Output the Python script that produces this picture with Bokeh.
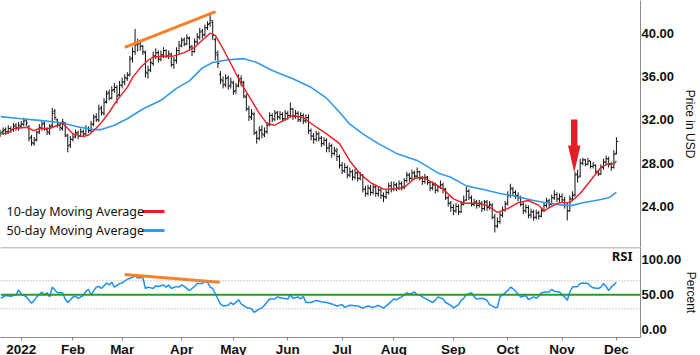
from bokeh.plotting import figure
from bokeh.layouts import column
from bokeh.models import Range1d, FixedTicker, NumeralTickFormatter, Span, Label
from bokeh.embed import file_html
from bokeh.resources import INLINE

# ---------------- data (trading-day index, 0 = 3 Jan 2022) ----------------
START_DAY = -8
month_days = [0, 20, 39, 62, 82, 103, 124, 144, 167, 188, 209, 230]
month_labels = ["2022", "Feb", "Mar", "Apr", "May", "Jun", "Jul", "Aug", "Sep", "Oct", "Nov", "Dec"]
price_ticks = [24, 28, 32, 36, 40]
rsi_ticks = [0, 50, 100]

closes = [30.8, 31.0, 30.9, 31.2, 31.1, 31.4, 31.3, 31.5,
          31.6, 31.9, 31.7, 30.3, 29.9, 30.1, 30.8, 31.3, 31.6, 31.2, 30.9, 31.4, 32.6, 32.2, 31.6, 31.3, 31.8, 30.6, 29.6, 30.2,
          30.4, 30.8, 30.5, 30.9, 30.7, 31.2, 31.0, 31.6, 32.2, 32.0, 33.0, 32.7, 33.6, 34.4, 34.0, 34.7, 35.0, 34.2, 35.2,
          35.5, 35.9, 36.1, 37.6, 38.3, 38.9, 39.0, 38.8, 38.3, 36.4, 36.6, 37.3, 37.9, 38.2, 37.6, 38.0, 38.4, 37.9, 38.1, 37.1, 37.5, 38.4, 38.9,
          39.3, 39.0, 39.6, 38.7, 38.3, 39.2, 39.7, 40.1, 39.9, 40.5, 40.8, 41.2, 39.8, 38.2, 37.2, 35.7, 35.2, 35.8, 35.1, 35.5,
          34.6, 35.1, 35.8, 35.5, 34.2, 33.0, 32.3, 32.6, 30.8, 30.3, 31.0, 30.7, 30.9, 31.5, 32.4, 32.1, 32.6, 32.3, 32.5, 32.1, 32.6,
          32.4, 33.0, 32.3, 32.6, 32.0, 32.4, 31.9, 32.2, 31.0, 30.5, 30.2, 30.7, 30.3, 29.8, 30.1, 29.4, 29.6, 28.9, 29.2, 28.6, 27.8,
          27.3, 27.6, 26.9, 27.2, 26.7, 27.1, 26.6, 26.9, 25.6, 25.2, 25.7, 25.3, 25.8, 25.2, 25.5, 25.0, 24.9, 25.3, 25.9, 25.6,
          26.0, 25.7, 26.1, 25.8, 26.4, 26.9, 26.6, 27.1, 26.8, 27.2, 26.6, 26.3, 26.7, 26.2, 25.7, 26.0, 25.5, 25.8, 26.0, 25.6, 24.8, 24.3, 23.9,
          23.6, 24.0, 23.5, 24.2, 24.5, 25.4, 24.8, 24.2, 24.4, 24.1, 24.3, 23.8, 24.4, 23.9, 24.2, 23.0, 22.2, 22.6, 23.2, 23.7, 24.2,
          25.0, 25.7, 25.3, 25.0, 24.8, 24.2, 23.6, 23.9, 23.2, 23.5, 23.0, 23.4, 23.1, 23.6, 24.1, 24.5, 24.2, 24.8, 25.1, 24.7, 24.9,
          24.6, 24.1, 23.6, 24.7, 25.0, 26.9, 26.7, 28.0, 28.3, 27.9, 28.2, 27.7, 27.8, 27.2, 27.0, 27.6, 28.1, 28.4, 27.9, 27.6, 28.8,
          30.0]
opens = [30.6, 30.9, 31.1, 30.9, 31.2, 31.1, 31.5, 31.2,
         31.4, 31.6, 32.0, 31.4, 30.4, 29.8, 30.2, 30.9, 31.2, 31.7, 31.1, 30.8, 31.5, 32.8, 32.0, 31.5, 31.2, 31.7, 30.5, 29.7,
         30.2, 30.5, 30.8, 30.5, 30.9, 30.7, 31.2, 31.0, 31.6, 32.3, 32.0, 33.1, 32.6, 33.7, 34.5, 34.0, 34.8, 35.0, 34.3,
         35.2, 35.5, 35.8, 36.2, 37.7, 38.3, 39.0, 39.1, 38.8, 38.2, 36.3, 36.6, 37.2, 37.9, 38.2, 37.6, 38.0, 38.4, 37.9, 38.0, 37.1, 37.5, 38.4,
         38.8, 39.4, 39.0, 39.5, 38.8, 38.3, 39.2, 39.6, 40.2, 39.8, 40.5, 40.9, 41.0, 39.4, 38.0, 36.2, 35.6, 35.3, 35.9, 35.2,
         35.4, 34.7, 35.2, 35.8, 35.4, 34.1, 33.0, 32.2, 32.5, 30.8, 30.3, 31.1, 30.6, 30.9, 31.6, 32.4, 32.0, 32.7, 32.2, 32.5, 32.1,
         32.6, 32.4, 33.0, 32.3, 32.6, 32.0, 32.4, 31.9, 32.2, 31.0, 30.5, 30.2, 30.7, 30.3, 29.8, 30.1, 29.4, 29.6, 28.9, 29.1, 28.6,
         27.8, 27.3, 27.6, 26.9, 27.2, 26.7, 27.1, 26.6, 26.9, 25.6, 25.2, 25.7, 25.3, 25.8, 25.2, 25.5, 25.0, 24.9, 25.3, 25.9,
         25.6, 26.0, 25.7, 26.1, 25.8, 26.4, 26.9, 26.6, 27.1, 26.8, 27.2, 26.6, 26.3, 26.7, 26.2, 25.7, 26.0, 25.5, 25.8, 26.0, 25.6, 24.8, 24.3,
         23.9, 23.6, 24.0, 23.5, 24.2, 24.6, 25.4, 24.8, 24.2, 24.4, 24.1, 24.3, 23.8, 24.4, 23.9, 24.1, 23.0, 22.2, 22.6, 23.2, 23.7,
         24.3, 25.0, 25.6, 25.3, 25.0, 24.8, 24.2, 23.6, 23.9, 23.2, 23.5, 23.0, 23.4, 23.1, 23.6, 24.1, 24.5, 24.2, 24.8, 25.1, 24.7,
         24.9, 24.6, 24.1, 23.6, 24.7, 25.1, 27.0, 26.8, 28.0, 28.3, 27.9, 28.2, 27.7, 27.8, 27.2, 27.0, 27.6, 28.1, 28.4, 27.9, 27.6,
         28.9]
highs = [31.1, 31.3, 31.3, 31.5, 31.4, 31.7, 31.7, 31.8,
         31.9, 32.2, 32.1, 31.5, 30.6, 30.4, 31.0, 31.6, 31.9, 31.8, 31.3, 31.6, 33.1, 33.0, 32.1, 31.7, 32.1, 31.8, 30.7, 30.5,
         30.8, 31.1, 31.0, 31.2, 31.1, 31.5, 31.4, 31.9, 32.5, 32.6, 33.4, 33.3, 34.0, 34.7, 34.8, 35.1, 35.4, 35.2, 35.6,
         35.9, 36.2, 36.4, 37.9, 38.7, 40.4, 39.5, 39.4, 38.9, 38.4, 37.0, 37.6, 38.3, 38.6, 38.4, 38.4, 38.7, 38.5, 38.4, 38.2, 37.8, 38.7, 39.3,
         39.6, 39.6, 39.9, 39.7, 38.9, 39.5, 40.0, 40.5, 40.4, 40.8, 41.1, 41.7, 41.2, 39.6, 38.4, 36.5, 36.0, 36.2, 36.1, 35.9,
         35.6, 35.4, 36.2, 36.1, 35.6, 34.4, 33.3, 33.0, 32.7, 31.0, 31.4, 31.5, 31.3, 31.8, 32.7, 32.6, 32.9, 32.8, 32.8, 32.7, 32.9,
         32.8, 33.6, 33.1, 32.9, 32.8, 32.7, 32.6, 32.5, 32.5, 31.2, 30.8, 31.0, 30.9, 30.5, 30.4, 30.3, 29.9, 29.8, 29.5, 29.4, 28.8,
         28.1, 28.0, 27.8, 27.6, 27.4, 27.5, 27.3, 27.2, 27.0, 25.9, 26.0, 26.0, 26.1, 26.0, 25.8, 25.7, 25.3, 25.6, 26.2, 26.3,
         26.3, 26.2, 26.4, 26.3, 26.6, 27.2, 27.1, 27.4, 27.3, 27.6, 27.3, 26.8, 27.0, 26.8, 26.3, 26.3, 26.2, 26.0, 26.4, 26.2, 25.7, 25.0, 24.5,
         24.2, 24.3, 24.2, 24.5, 25.0, 25.8, 25.6, 25.0, 24.7, 24.6, 24.6, 24.5, 24.6, 24.6, 24.5, 24.3, 23.3, 23.0, 23.5, 24.0, 24.5,
         25.4, 26.1, 25.8, 25.5, 25.3, 25.0, 24.4, 24.2, 24.1, 23.8, 23.7, 23.7, 23.6, 23.9, 24.4, 24.8, 24.7, 25.1, 25.5, 25.3, 25.2,
         25.2, 24.9, 24.4, 25.0, 25.4, 27.2, 27.4, 28.4, 28.5, 28.4, 28.5, 28.2, 28.1, 27.9, 27.4, 27.9, 28.4, 28.7, 28.6, 28.1, 29.2,
         30.4]
lows = [30.4, 30.6, 30.6, 30.7, 30.8, 30.9, 31.0, 31.0,
        31.2, 31.4, 31.4, 30.0, 29.6, 29.6, 30.0, 30.7, 31.0, 31.0, 30.6, 30.6, 31.3, 32.0, 31.3, 31.0, 31.0, 30.4, 29.0, 29.4,
        30.0, 30.3, 30.2, 30.4, 30.4, 30.6, 30.8, 30.8, 31.4, 31.8, 31.8, 32.4, 32.4, 33.5, 33.8, 33.9, 34.5, 33.5, 34.2,
        34.9, 35.2, 35.6, 36.0, 37.3, 38.0, 38.3, 38.4, 38.0, 35.9, 35.8, 36.4, 37.0, 37.6, 37.3, 37.4, 37.7, 37.7, 37.6, 36.9, 36.7, 37.2, 38.1,
        38.7, 38.8, 38.9, 38.5, 37.9, 38.2, 39.0, 39.4, 39.5, 39.7, 40.3, 40.6, 39.4, 37.5, 36.8, 35.3, 34.9, 35.0, 34.8, 34.9,
        34.3, 34.4, 35.0, 35.1, 34.0, 32.8, 31.9, 32.0, 30.6, 29.8, 30.1, 30.3, 30.4, 30.7, 31.4, 31.8, 31.9, 32.0, 32.0, 31.8, 31.9,
        32.0, 32.2, 32.0, 32.1, 31.8, 31.8, 31.6, 31.7, 30.7, 30.1, 29.8, 30.0, 30.0, 29.5, 29.6, 29.0, 29.0, 28.5, 28.7, 28.2, 27.5,
        27.0, 27.1, 26.6, 26.7, 26.4, 26.5, 26.3, 26.4, 25.3, 24.9, 25.0, 25.0, 25.1, 24.9, 24.9, 24.7, 24.4, 24.7, 25.1, 25.3,
        25.4, 25.4, 25.5, 25.5, 25.6, 26.2, 26.3, 26.4, 26.5, 26.6, 26.4, 26.0, 26.1, 26.0, 25.4, 25.5, 25.2, 25.3, 25.6, 25.2, 24.6, 24.0, 23.5,
        23.2, 23.4, 23.2, 23.4, 24.1, 24.5, 24.6, 24.0, 24.0, 23.8, 23.9, 23.5, 23.6, 23.6, 23.7, 22.8, 21.6, 22.0, 22.4, 23.0, 23.5,
        24.1, 24.8, 25.0, 24.7, 24.5, 24.0, 23.3, 23.4, 22.9, 22.9, 22.7, 22.8, 22.8, 23.0, 23.5, 23.9, 23.9, 24.1, 24.6, 24.4, 24.4,
        24.3, 23.8, 22.7, 23.5, 24.5, 24.9, 26.2, 26.7, 27.8, 27.7, 27.8, 27.5, 27.5, 27.0, 26.8, 26.9, 27.4, 27.9, 27.6, 27.3, 27.5,
        28.8]

ma10_days = [-8, -5, -3, 2, 5, 7, 11, 16, 18, 20, 24, 26, 28, 31, 34, 37, 41, 43, 46, 49,
             51, 54, 59, 63, 67, 69, 73, 75, 77, 81, 85, 89, 92, 95, 98, 101, 105, 109, 113, 118,
             123, 127, 131, 135, 140, 144, 148, 152, 155, 159, 163, 167, 171, 176, 180, 184, 188, 192, 196, 200,
             202, 204, 208, 212, 216, 220, 224, 227, 229, 230]
ma10_vals = [30.7, 30.8, 31.2, 31.3, 31.0, 31.2, 31.2, 31.7, 31.2, 30.7, 30.45, 30.6, 31.0, 31.75, 32.7, 33.8, 35.0, 35.9, 36.8, 37.5,
             37.8, 37.85, 37.9, 38.2, 38.7, 39.15, 40.0, 39.8, 39.0, 37.2, 35.35, 33.8, 32.6, 31.65, 31.5, 31.9, 32.4, 32.2, 31.5, 30.7,
             29.8, 28.2, 27.0, 26.2, 25.6, 25.6, 25.75, 26.6, 26.7, 26.2, 25.6, 24.7, 24.3, 24.3, 24.1, 23.45, 23.8, 24.35, 24.55, 24.1,
             23.6, 23.9, 24.35, 24.35, 25.2, 26.4, 27.6, 27.95, 27.95, 28.2]
ma50_days = [-8, 0, 7, 15, 23, 28, 31, 36, 41, 47, 54, 60, 65, 70, 74, 80, 86, 91, 97, 105,
             112, 118, 123, 127, 132, 138, 145, 153, 161, 166, 172, 179, 185, 192, 198, 204, 210, 213, 217, 223,
             227, 230]
ma50_vals = [32.3, 32.1, 31.95, 31.75, 31.3, 31.1, 31.1, 31.5, 32.1, 33.0, 33.8, 34.9, 35.6, 36.8, 37.3, 37.55, 37.65, 37.3, 36.55, 35.8,
             35.0, 34.0, 32.7, 31.6, 30.7, 29.8, 28.9, 28.25, 27.1, 26.7, 25.9, 25.55, 25.2, 24.9, 24.55, 24.3, 24.1, 24.1, 24.35, 24.6,
             24.8, 25.3]

rsi_points = [(-8, 45), (-6, 49), (-4, 48), (-2, 50), (-1, 57), (0, 51), (2, 47), (4, 38), (5, 42), (6, 47),
              (8, 54), (9, 50), (10, 53), (11, 47), (12, 61), (13, 57), (14, 53), (16, 53), (17, 44), (18, 39),
              (20, 47), (21, 48), (22, 45), (24, 49), (25, 55), (26, 58), (27, 50), (29, 61), (30, 62), (31, 59),
              (33, 67), (34, 64), (35, 68), (36, 61), (38, 66), (39, 67), (40, 70), (41, 72), (43, 75), (44, 77),
              (45, 74), (47, 75), (48, 59), (49, 61), (51, 59), (52, 63), (53, 62), (55, 64), (56, 61), (57, 64),
              (58, 59), (60, 62), (61, 61), (62, 64), (63, 62), (65, 56), (66, 59), (67, 62), (68, 66), (70, 66),
              (71, 69), (72, 68), (73, 61), (74, 59), (76, 44), (77, 37), (78, 34), (80, 35), (81, 39), (82, 36),
              (84, 43), (85, 37), (87, 32), (89, 30), (90, 25), (92, 30), (93, 31), (94, 35), (96, 44), (98, 44),
              (99, 47), (101, 45), (103, 44), (104, 50), (105, 45), (107, 47), (108, 44), (109, 48), (110, 39), (112, 39),
              (114, 42), (116, 40), (118, 39), (120, 37), (122, 34), (124, 36), (125, 32), (127, 35), (130, 34), (132, 31),
              (134, 34), (136, 32), (138, 35), (140, 31), (142, 37), (144, 44), (145, 43), (147, 47), (149, 53), (150, 51),
              (152, 54), (153, 50), (154, 50), (155, 47), (157, 43), (159, 39), (160, 42), (161, 47), (163, 44), (164, 39),
              (166, 35), (167, 31), (169, 36), (170, 42), (171, 45), (172, 50), (174, 53), (175, 47), (176, 44), (178, 45),
              (179, 44), (180, 42), (181, 36), (183, 32), (184, 32), (185, 47), (186, 50), (188, 56), (189, 61), (190, 59),
              (192, 51), (193, 47), (195, 49), (196, 43), (198, 47), (199, 45), (200, 48), (201, 53), (203, 54), (204, 54),
              (205, 58), (206, 55), (208, 54), (209, 50), (210, 47), (211, 42), (212, 54), (213, 61), (215, 62), (216, 66),
              (217, 67), (219, 66), (220, 62), (221, 60), (223, 59), (224, 61), (225, 66), (226, 62), (227, 56), (228, 61),
              (230, 68)]

trend_price_days = [40.0, 75.1]
trend_price_vals = [38.7, 42.0]
trend_rsi_days = [40.0, 76.7]
trend_rsi_vals = [79.0, 68.0]
arrow_day = 213.7

# ---------------- layout constants ----------------
XS, XE = -8.0, 239.3
PY0, PY1 = 20.21, 43.02
RY0, RY1 = -11.0, 117.6
FW, FH_TOP, FH_RSI = 640, 247, 90

def tx(px):
    return XS + px * (XE - XS) / FW

def ty(py):
    return PY1 - py * (PY1 - PY0) / FH_TOP

def dx(dpx):
    return dpx * (XE - XS) / FW

def ry(py):
    return RY1 - py * (RY1 - RY0) / FH_RSI

AXIS_GRAY = "#8c8c8c"
TICK_FONT = "Liberation Sans"
TEXT_FONT = "Noto Sans"
AXIS_LABEL_FONT = "Liberation Sans"

days = list(range(START_DAY, START_DAY + len(closes)))
tick_half = dx(1.6)

# ---------------- price panel ----------------
p = figure(frame_width=FW, frame_height=FH_TOP, x_range=Range1d(XS, XE), y_range=Range1d(PY0, PY1),
           x_axis_location=None, y_axis_location="right", output_backend="svg", toolbar_location=None,
           min_border=0)
p.grid.visible = False
p.outline_line_color = None

p.segment(x0=days, y0=lows, x1=days, y1=highs, line_color="#111111", line_width=1)
p.segment(x0=[d - tick_half for d in days], y0=opens, x1=days, y1=opens, line_color="#111111", line_width=1)
p.segment(x0=days, y0=closes, x1=[d + tick_half for d in days], y1=closes, line_color="#111111", line_width=1)

p.line(ma50_days, ma50_vals, line_color="#3399ee", line_width=1.6)
p.line(ma10_days, ma10_vals, line_color="#ee1c24", line_width=1.4)
p.line(trend_price_days, trend_price_vals, line_color="#ff7f27", line_width=3)

# red arrow (pixel geometry relative to the frame)
ax_c = arrow_day
sw, hw = dx(3.2), dx(6.2)
y_tail, y_head, y_tip = ty(119), ty(145), ty(172)
p.patch([ax_c - sw, ax_c + sw, ax_c + sw, ax_c + hw, ax_c, ax_c - hw, ax_c - sw],
        [y_tail, y_tail, y_head, y_head, y_tip, y_head, y_head],
        fill_color="#e41e26", line_color=None)

# legend
for txt, py, col in [("10-day Moving Average", 211, "#ee1c24"), ("50-day Moving Average", 230, "#3399ee")]:
    p.add_layout(Label(x=tx(6), y=ty(py), text=txt, text_font=TEXT_FONT, text_font_size="12.5px",
                       text_color="#111111", text_baseline="middle", text_align="left"))
    p.line([tx(142), tx(164)], [ty(py), ty(py)], line_color=col, line_width=3)

p.yaxis.ticker = FixedTicker(ticks=price_ticks)
p.yaxis.formatter = NumeralTickFormatter(format="0.00")
p.yaxis.axis_label = "Price in USD"

# ---------------- RSI panel ----------------
r = figure(frame_width=FW, frame_height=FH_RSI, x_range=p.x_range, y_range=Range1d(RY0, RY1),
           y_axis_location="right", output_backend="svg", toolbar_location=None, min_border=0)
r.grid.visible = False
r.outline_line_color = None

r.add_layout(Span(location=RY1, dimension="width", line_color=AXIS_GRAY, line_width=1.5))
for lvl in (70, 30):
    r.add_layout(Span(location=lvl, dimension="width", line_color="#9a9a9a", line_width=1, line_dash="1 2"))
r.add_layout(Span(location=50, dimension="width", line_color="#22a022", line_width=2))

rsi_days = [d for d, v in rsi_points]
rsi_vals = [v for d, v in rsi_points]
r.line(rsi_days, rsi_vals, line_color="#1e8ff5", line_width=1.5)
r.line(trend_rsi_days, trend_rsi_vals, line_color="#ff7f27", line_width=3)

r.add_layout(Label(x=tx(632), y=ry(8), text="RSI", text_font=TEXT_FONT, text_font_size="13px",
                   text_font_style="bold", text_color="#111111", text_align="right", text_baseline="middle"))

r.yaxis.ticker = FixedTicker(ticks=rsi_ticks)
r.yaxis.formatter = NumeralTickFormatter(format="0.00")
r.yaxis.axis_label = "Percent"

r.xaxis.ticker = FixedTicker(ticks=month_days)
r.xaxis.major_label_overrides = {d: lab for d, lab in zip(month_days, month_labels)}

for ax in [p.yaxis[0], r.yaxis[0], r.xaxis[0]]:
    ax.axis_line_color = AXIS_GRAY
    ax.minor_tick_line_color = None
    ax.major_label_text_font = TICK_FONT
    ax.major_label_text_font_style = "bold"
    ax.major_label_text_font_size = "13.5px"
    ax.major_label_text_color = "#111111"
    ax.axis_label_text_font = AXIS_LABEL_FONT
    ax.axis_label_text_font_style = "normal"
    ax.axis_label_text_font_size = "12px"
    ax.axis_label_text_color = "#111111"

for ax in [p.yaxis[0], r.yaxis[0]]:
    ax.major_tick_line_color = None
    ax.major_tick_out = 0
    ax.major_tick_in = 0
    ax.major_label_standoff = 1
    ax.major_label_text_font_size = "13px"

p.yaxis.axis_label_standoff = 6
r.yaxis.axis_label_standoff = 0

r.xaxis.major_tick_line_color = AXIS_GRAY
r.xaxis.major_tick_out = 3
r.xaxis.major_tick_in = 0
r.xaxis.major_label_standoff = 1

layout = column(p, r, spacing=0)

open("out.html", "w").write(file_html(layout, INLINE))
